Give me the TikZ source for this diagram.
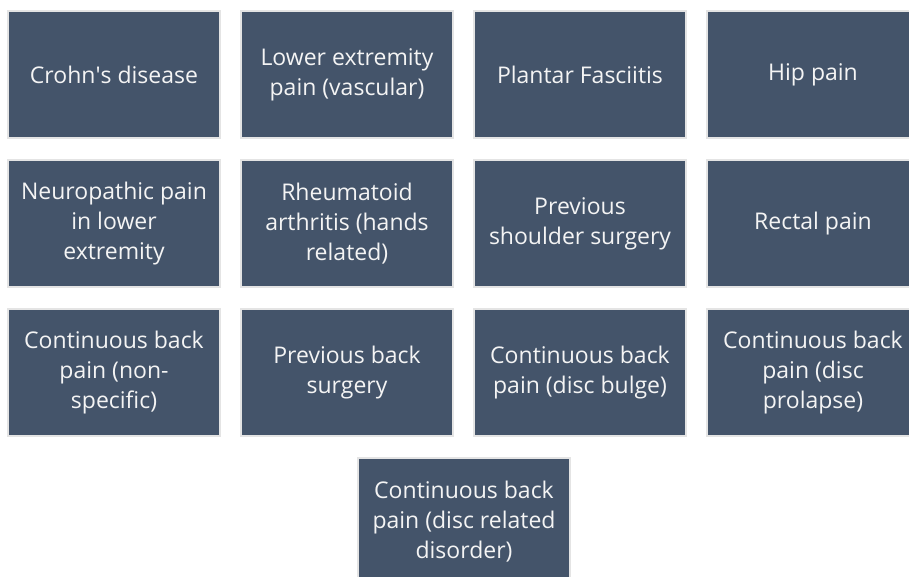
\documentclass[tikz,border=0pt]{standalone}
\usepackage{fontspec}
\setmainfont{Open Sans}
\definecolor{boxfill}{HTML}{44546A}
\definecolor{boxedge}{HTML}{E4E4E4}
\definecolor{boxtext}{HTML}{F4F4F4}
\begin{document}
\begin{tikzpicture}[x=1pt,y=-1pt,
  cell/.style={rectangle, draw=boxedge, line width=2pt, fill=boxfill,
    minimum width=212pt, minimum height=127pt, inner sep=0pt,
    text=boxtext, align=center, font=\fontsize{23}{30}\selectfont}]
\useasboundingbox (0,0) rectangle (909,577);
\clip (0,0) rectangle (909,577);
\node[cell] (a1) at (114,74.5) {Crohn\textquotesingle s disease};
\node[cell] (a2) at (347,74.5) {Lower extremity\\pain (vascular)};
\node[cell] (a3) at (580,74.5) {Plantar Fasciitis};
\node[cell] (a4) at (813,74.5) {Hip pain};
\node[cell] (b1) at (114,223.5) {Neuropathic pain\\in lower\\extremity};
\node[cell] (b2) at (347,223.5) {Rheumatoid\\arthritis (hands\\related)};
\node[cell] (b3) at (580,223.5) {Previous\\shoulder surgery};
\node[cell] (b4) at (813,223.5) {Rectal pain};
\node[cell] (c1) at (114,372.5) {Continuous back\\pain (non-\\specific)};
\node[cell] (c2) at (347,372.5) {Previous back\\surgery};
\node[cell] (c3) at (580,372.5) {Continuous back\\pain (disc bulge)};
\node[cell] (c4) at (813,372.5) {Continuous back\\pain (disc\\prolapse)};
\node[cell] (d1) at (464,521.5) {Continuous back\\pain (disc related\\disorder)};
\end{tikzpicture}
\end{document}
